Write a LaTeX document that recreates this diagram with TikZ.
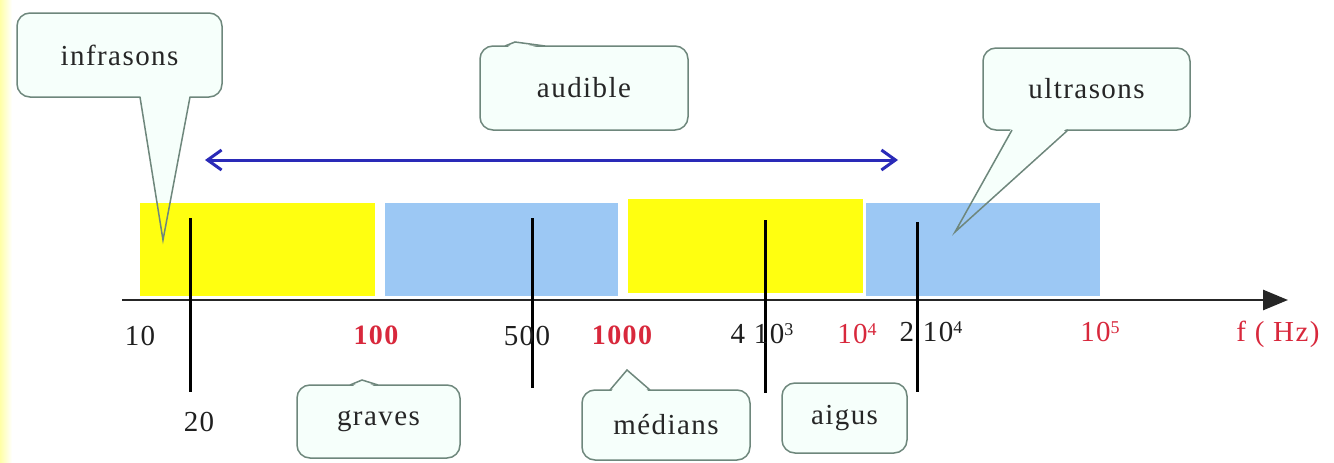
\documentclass[tikz,border=0pt]{standalone}
\usepackage{fontspec}
\setmainfont{Liberation Serif}[LetterSpace=5]
\usetikzlibrary{arrows.meta}
\definecolor{bubbleline}{HTML}{6E877C}
\definecolor{bubblefill}{HTML}{F6FFFB}
\definecolor{bandyellow}{HTML}{FFFF10}
\definecolor{bandblue}{HTML}{9CC8F4}
\definecolor{arrowblue}{HTML}{2A2AB8}
\definecolor{labelred}{HTML}{D8283C}
\newcommand{\sps}[1]{\raisebox{0.6ex}{\fontsize{18}{18}\selectfont #1}}
\begin{document}
\begin{tikzpicture}[x=1pt,y=-1pt,
  bubble/.style={draw=bubbleline, fill=bubblefill, line width=1.5pt, rounded corners=13pt, inner sep=0pt, font=\fontsize{29}{33}\selectfont, text=black!85},
  tailfill/.style={fill=bubblefill, draw=none},
  tailside/.style={draw=bubbleline, line width=1.5pt},
  band/.style={draw=none, inner sep=0pt},
  ticker/.style={line width=3pt, black},
  lab/.style={font=\fontsize{29}{33}\selectfont, inner sep=0pt, text=black!88},
  redlab/.style={font=\fontsize{29}{33}\selectfont, inner sep=0pt, text=labelred},
  boldred/.style={font=\fontsize{28}{32}\selectfont\bfseries, inner sep=0pt, text=labelred},
]
\useasboundingbox (0,0) rectangle (1334,463);
\fill[white] (0,0) rectangle (1334,463);
\shade[left color=yellow!35!white, right color=white] (0,0) rectangle (12,463);

% callout boxes
\node[bubble, minimum width=205pt, minimum height=84pt] (inf) at (119.5,55) {infrasons};
\node[bubble, minimum width=208pt, minimum height=84pt] (aud) at (584,88) {audible};
\node[bubble, minimum width=207pt, minimum height=82pt] (ult) at (1086.5,89) {ultrasons};
\node[bubble, minimum width=163pt, minimum height=73pt] (grv) at (378.5,421.5) {graves};
\node[bubble, minimum width=168pt, minimum height=70pt] (med) at (666,425) {médians};
\node[bubble, minimum width=125pt, minimum height=70pt] (aig) at (844.5,418) {aigus};

% tail tips
\coordinate (inftip) at (163,240);
\coordinate (ulttip) at (955,232);
\coordinate (medtip) at (627,370);
\coordinate (grvtip) at (362,380);
\coordinate (audtip) at (515,42);

% tail fills
\fill[tailfill] (140,94) -- (inftip) -- (190,94) -- cycle;
\fill[tailfill] (1012,127) -- (ulttip) -- (1068,127) -- cycle;
\fill[tailfill] (610,393) -- (medtip) -- (650,393) -- cycle;
\fill[tailfill] (350,388) -- (grvtip) -- (378,388) -- cycle;
\fill[tailfill] (505,49) -- (audtip) -- (545,49) -- cycle;

% frequency bands
\node[band, fill=bandyellow, minimum width=235pt, minimum height=93pt] (b1) at (257.5,249.5) {};
\node[band, fill=bandblue, minimum width=233pt, minimum height=93pt] (b2) at (501.5,249.5) {};
\node[band, fill=bandyellow, minimum width=235pt, minimum height=94pt] (b3) at (745.5,246) {};
\node[band, fill=bandblue, minimum width=234pt, minimum height=93pt] (b4) at (983,249.5) {};

% tail sides
\draw[tailside] (140,97) -- (inftip) -- (190,97);
\draw[tailside] (1012,130) -- (ulttip) -- (1068,130);
\draw[tailside] (610,390) -- (medtip) -- (650,390);
\draw[tailside] (350,385) -- (grvtip) -- (378,385);
\draw[tailside] (505,46) -- (audtip) -- (545,46);

% audible arrow
\coordinate (audL) at (205,160);
\coordinate (audR) at (898,160);
\draw[arrowblue, line width=3pt, {Straight Barb[length=14pt,width=20pt]}-{Straight Barb[length=14pt,width=20pt]}] (audL) -- (audR);

% axis
\coordinate (axL) at (122,300);
\coordinate (axR) at (1288,300);
\draw[line width=2.8pt, black!85, -{Triangle[length=25pt,width=20pt]}] (axL) -- (axR);

% vertical markers
\coordinate (t1a) at (190,218); \coordinate (t1b) at (190,392);
\coordinate (t2a) at (532,218); \coordinate (t2b) at (532,388);
\coordinate (t3a) at (765,220); \coordinate (t3b) at (765,393);
\coordinate (t4a) at (917,222); \coordinate (t4b) at (917,392);
\draw[ticker] (t1a) -- (t1b);
\draw[ticker] (t2a) -- (t2b);
\draw[ticker] (t3a) -- (t3b);
\draw[ticker] (t4a) -- (t4b);

% labels
\node[lab] (l10) at (140,336) {10};
\node[boldred] (l100) at (376,335) {100};
\node[lab] (l500) at (527,336) {500};
\node[boldred] (l1000) at (622,335) {1000};
\node[lab] (l4e3) at (762,334) {4 10\sps{3}};
\node[redlab] (l1e4) at (857,334) {10\sps{4}};
\node[lab] (l2e4) at (931,332) {2 10\sps{4}};
\node[redlab] (l1e5) at (1100,332) {10\sps{5}};
\node[redlab] (lf) at (1278,334) {f ( Hz)};
\node[lab] (l20) at (199,422) {20};
\end{tikzpicture}
\end{document}
